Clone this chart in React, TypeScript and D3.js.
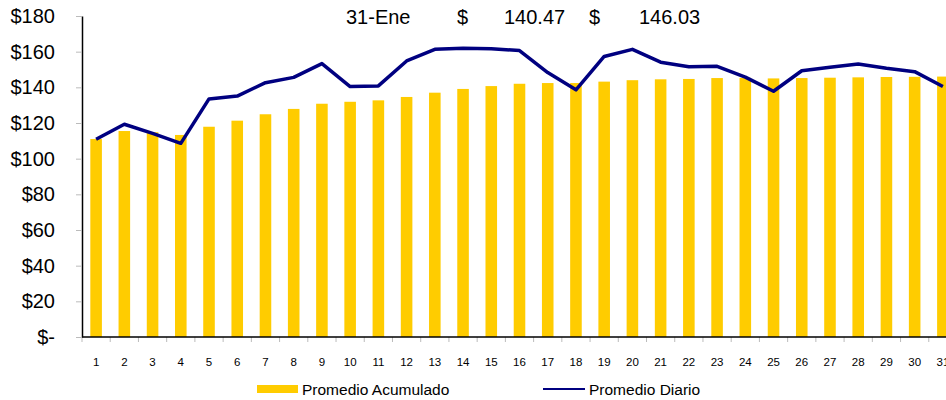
import React, { useEffect, useRef } from 'react';
import * as d3 from 'd3';

// Daily index, accumulated average (bars) and daily average (line)
const days = d3.range(1, 32);
const promedioAcumulado = [
  111.0, 115.5, 114.8, 113.3, 117.9, 121.3, 124.9, 127.9, 130.8, 131.9, 132.7,
  134.6, 137.0, 139.1, 140.7, 142.0, 142.4, 142.4, 143.2, 144.0, 144.5, 144.7,
  145.2, 145.3, 145.0, 145.2, 145.4, 145.6, 145.8, 145.9, 146.03,
];
const promedioDiario = [
  110.9, 119.3, 114.2, 108.6, 133.5, 135.1, 142.6, 145.6, 153.3, 140.4, 140.8,
  154.8, 161.3, 161.9, 161.7, 160.6, 148.3, 138.6, 157.3, 161.3, 154.1, 151.6,
  151.8, 145.7, 137.8, 149.3, 151.2, 153.1, 150.7, 148.8, 140.47,
];
const yTicks = [0, 20, 40, 60, 80, 100, 120, 140, 160, 180];
const headerLabels = ['31-Ene', '$', '140.47', '$', '146.03'];
const seriesNames = ['Promedio Acumulado', 'Promedio Diario'];

const App = () => {
  const svgRef = useRef<SVGSVGElement>(null);

  useEffect(() => {
    const width = 946,
      height = 400;
    const left = 82,
      right = 957,
      top = 16,
      bottom = 337;
    const font = '"Liberation Sans", Arial, sans-serif';

    const svg = d3.select(svgRef.current);
    svg.selectAll('*').remove();
    svg.attr('width', width).attr('height', height);

    const x = d3
      .scaleBand<number>()
      .domain(days)
      .range([left, right])
      .paddingInner(0.59)
      .paddingOuter(0.295);

    const y = d3.scaleLinear().domain([0, 180]).range([bottom, top]);

    // Bars
    svg
      .append('g')
      .selectAll('rect')
      .data(promedioAcumulado)
      .enter()
      .append('rect')
      .attr('x', (_, i) => x(days[i])!)
      .attr('y', (d) => y(d))
      .attr('width', x.bandwidth())
      .attr('height', (d) => y(0) - y(d))
      .attr('fill', '#FFCC00');

    // Line
    const line = d3
      .line<number>()
      .x((_, i) => x(days[i])! + x.bandwidth() / 2)
      .y((d) => y(d));

    svg
      .append('path')
      .datum(promedioDiario)
      .attr('d', line)
      .attr('fill', 'none')
      .attr('stroke', '#000080')
      .attr('stroke-width', 3.5)
      .attr('stroke-linejoin', 'round');

    // Y axis
    const yAxis = svg
      .append('g')
      .attr('transform', `translate(${left},0)`)
      .call(
        d3
          .axisLeft(y)
          .tickValues(yTicks)
          .tickSize(6)
          .tickSizeOuter(0)
          .tickPadding(21)
          .tickFormat((d) => (d === 0 ? '$-' : `$${d}`))
      );
    yAxis.select('.domain').attr('stroke', '#000').attr('stroke-width', 1.5);
    yAxis.selectAll('.tick line').attr('stroke', '#bbb');
    yAxis
      .selectAll('.tick text')
      .attr('fill', '#000')
      .style('font-family', font)
      .style('font-size', '20px');

    // X axis
    const step = x.step();
    svg
      .append('g')
      .selectAll('line')
      .data(d3.range(0, 32))
      .enter()
      .append('line')
      .attr('x1', (d) => left + d * step)
      .attr('x2', (d) => left + d * step)
      .attr('y1', bottom)
      .attr('y2', bottom + 5)
      .attr('stroke', '#bbb');

    svg
      .append('line')
      .attr('x1', left)
      .attr('x2', right)
      .attr('y1', bottom)
      .attr('y2', bottom)
      .attr('stroke', '#000')
      .attr('stroke-width', 1.5);

    svg
      .append('g')
      .selectAll('text')
      .data(days)
      .enter()
      .append('text')
      .attr('x', (d) => x(d)! + x.bandwidth() / 2)
      .attr('y', 365.5)
      .attr('text-anchor', 'middle')
      .style('font-family', font)
      .style('font-size', '11.5px')
      .text((d) => d);

    // Header
    const headerX = [346, 457, 504, 589, 639];
    svg
      .append('g')
      .selectAll('text')
      .data(headerLabels)
      .enter()
      .append('text')
      .attr('x', (_, i) => headerX[i])
      .attr('y', 24)
      .style('font-family', font)
      .style('font-size', '20px')
      .text((d) => d);

    // Legend
    const legend = svg.append('g').style('font-family', font).style('font-size', '15.5px');
    legend
      .append('rect')
      .attr('x', 257)
      .attr('y', 385)
      .attr('width', 41)
      .attr('height', 8)
      .attr('fill', '#FFCC00');
    legend
      .append('text')
      .attr('x', 302)
      .attr('y', 394.5)
      .text(seriesNames[0]);
    legend
      .append('line')
      .attr('x1', 543)
      .attr('x2', 585)
      .attr('y1', 389)
      .attr('y2', 389)
      .attr('stroke', '#000080')
      .attr('stroke-width', 2);
    legend
      .append('text')
      .attr('x', 589)
      .attr('y', 394.5)
      .text(seriesNames[1]);
  }, []);

  return <svg ref={svgRef} style={{ position: 'absolute', left: 0, top: 0, background: '#fff' }}></svg>;
};

export default App;
